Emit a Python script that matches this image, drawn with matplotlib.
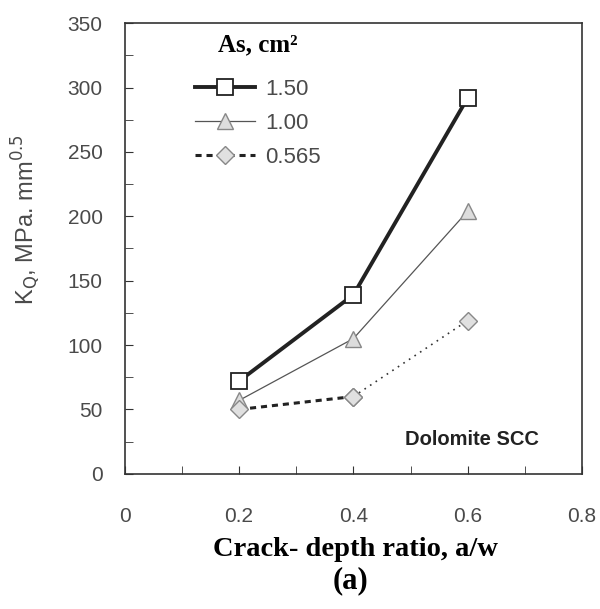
import numpy as np
import matplotlib.pyplot as plt
from matplotlib.ticker import MultipleLocator

# data
crack_ratio = [0.2, 0.4, 0.6]
kq_150 = [72, 139, 292]
kq_100 = [57, 105, 204]
kq_0565 = [50, 60, 119]

plt.rcParams['font.family'] = 'Liberation Sans'

fig = plt.figure(figsize=(6, 6.09), dpi=100)
ax = fig.add_axes([0.208, 0.222, 0.762, 0.740])

ax.plot(crack_ratio, kq_150, color='#222222', lw=2.8, marker='s', ms=11,
        mfc='white', mec='#222222', mew=1.3, label='1.50')
ax.plot(crack_ratio, kq_100, color='#555555', lw=0.9, marker='^', ms=12,
        mfc='#dddddd', mec='#888888', mew=1.0, label='1.00')
# 0.565 series: heavy dashes on the first leg, light dots on the second
ax.plot(crack_ratio[:2], kq_0565[:2], color='#222222', lw=2.2, ls=(0, (2, 1.6)), marker='D', ms=9,
        mfc='#e0e0e0', mec='#888888', mew=1.0, label='0.565')
ax.plot(crack_ratio[1:], kq_0565[1:], color='#333333', lw=1.2, ls=(0, (1, 3)), marker='D', ms=9,
        mfc='#e0e0e0', mec='#888888', mew=1.0)

ax.set_xlim(0, 0.8)
ax.set_ylim(0, 350)
ax.set_xticks([0, 0.2, 0.4, 0.6, 0.8])
ax.set_xticklabels(['0', '0.2', '0.4', '0.6', '0.8'])
ax.xaxis.set_minor_locator(MultipleLocator(0.1))
ax.yaxis.set_major_locator(MultipleLocator(50))
ax.yaxis.set_minor_locator(MultipleLocator(25))
ax.tick_params(which='both', direction='in', labelsize=15, labelcolor='#4a4a4a',
               color='#333333', top=False, right=False, length=6)
ax.tick_params(axis='y', which='major', pad=16)
ax.tick_params(axis='x', which='major', pad=24)
for s in ax.spines.values():
    s.set_color('#333333')
    s.set_linewidth(1.2)

ax.set_ylabel(r'K$_{\mathrm{Q}}$, MPa. mm$^{0.5}$', fontsize=17, color='#4a4a4a')
ax.yaxis.set_label_coords(-0.178, 0.565)
fig.text(0.592, 0.097, 'Crack- depth ratio, a/w', ha='center', va='center', fontsize=20.5,
         fontweight='bold', family='Liberation Serif')
fig.text(0.585, 0.047, '(a)', ha='center', va='center', fontsize=22, fontweight='bold',
         family='Liberation Serif')

leg = ax.legend(loc='upper left', bbox_to_anchor=(0.153, 0.877), frameon=False,
                fontsize=16, handlelength=2.7, handletextpad=0.45,
                labelspacing=0.585, borderpad=0, borderaxespad=0)
for t in leg.get_texts():
    t.set_color('#4a4a4a')
ax.text(0.291, 0.951, 'As, cm²', transform=ax.transAxes, ha='center', va='center',
        fontsize=18, fontweight='bold', family='Liberation Serif')

ax.text(0.905, 0.064, 'Dolomite SCC', transform=ax.transAxes, ha='right',
        fontsize=14.5, fontweight='bold', color='#222222')

fig.savefig('out.png', dpi=100)
